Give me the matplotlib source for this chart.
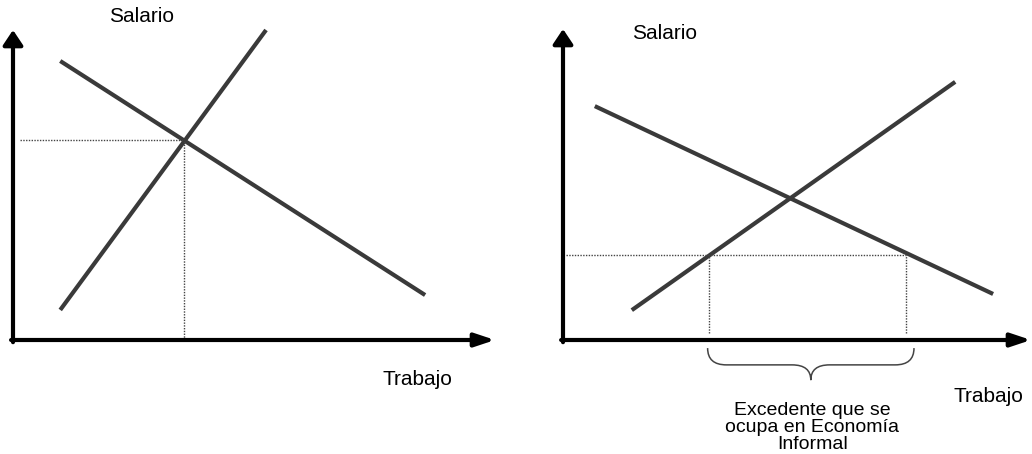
import matplotlib.pyplot as plt
from matplotlib.path import Path
from matplotlib.patches import PathPatch

# diagram values (labour on x, wage on y), axis ends at 10
left_supply_x = [0.98, 5.25]
left_supply_y = [0.97, 10.0]
left_demand_x = [0.98, 8.55]
left_demand_y = [9.0, 1.45]
left_eq_x = 3.55
left_eq_y = 6.45

right_supply_x = [1.47, 8.38]
right_supply_y = [0.96, 8.30]
right_demand_x = [0.68, 9.19]
right_demand_y = [7.52, 1.48]
right_min_wage = 2.73
right_labour_supplied = 3.11
right_labour_demanded = 7.33

axis_label_y = "Salario"
axis_label_x = "Trabajo"
surplus_label = "Excedente que se\nocupa en Economía\nInformal"

plt.rcParams['font.family'] = ['Liberation Sans', 'DejaVu Sans']

W, H = 1032, 454
fig = plt.figure(figsize=(W / 100, H / 100), dpi=100)

line_col = "#3a3a3a"
dot_col = "#444444"
dots = (0, (1, 1))


def make_axes(left_px, right_px, origin_px, tip_px):
    # axes covering a slice of the figure, data 0..10 mapped to origin..tip in pixels
    ox, oy = origin_px
    tx, ty = tip_px
    sx = (tx - ox) / 10.0
    sy = (oy - ty) / 10.0
    ax = fig.add_axes([left_px / W, 0, (right_px - left_px) / W, 1])
    ax.set_xlim((left_px - ox) / sx, (right_px - ox) / sx)
    ax.set_ylim((oy - H) / sy, oy / sy)
    ax.axis("off")
    return ax


def draw_axes_arrows(ax):
    common = dict(lw=3, color="black", mutation_scale=20, shrinkA=0, shrinkB=0)
    ax.annotate("", xy=(10, 0), xytext=(-0.04, 0),
                arrowprops=dict(arrowstyle="-|>,head_length=0.6,head_width=0.2", **common))
    ax.annotate("", xy=(0, 10), xytext=(0, -0.07),
                arrowprops=dict(arrowstyle="-|>,head_length=0.45,head_width=0.3", **common))


# left panel: equilibrium
axl = make_axes(0, 520, (13, 340), (495, 30))
draw_axes_arrows(axl)
axl.plot(left_supply_x, left_supply_y, color=line_col, lw=3, solid_capstyle="butt")
axl.plot(left_demand_x, left_demand_y, color=line_col, lw=3, solid_capstyle="butt")
axl.plot([0.15, left_eq_x], [left_eq_y, left_eq_y], color=dot_col, lw=1.0, ls=dots)
axl.plot([left_eq_x, left_eq_x], [0, left_eq_y], color=dot_col, lw=1.0, ls=dots)
axl.text(2.66, 10.42, axis_label_y, ha="center", va="center", fontsize=15)
axl.text(8.40, -1.29, axis_label_x, ha="center", va="center", fontsize=15)

# right panel: wage floor above equilibrium
axr = make_axes(520, 1032, (563, 340), (1031, 29))
draw_axes_arrows(axr)
axr.plot(right_supply_x, right_supply_y, color=line_col, lw=3, solid_capstyle="butt")
axr.plot(right_demand_x, right_demand_y, color=line_col, lw=3, solid_capstyle="butt")
axr.plot([0.06, right_labour_demanded], [right_min_wage, right_min_wage],
         color=dot_col, lw=1.0, ls=dots)
for xv in [right_labour_supplied, right_labour_demanded]:
    axr.plot([xv, xv], [0.23, right_min_wage], color=dot_col, lw=1.0, ls=dots)

# curly brace under the surplus
x0, x1 = 3.09, 7.50
xc = (x0 + x1) / 2
y_top, y_mid, y_tip = -0.26, -0.80, -1.29
r = 0.4
verts = [(x0, y_top), (x0, y_mid), (x0 + r, y_mid),
         (xc - r, y_mid),
         (xc, y_mid), (xc, y_tip),
         (xc, y_mid), (xc + r, y_mid),
         (x1 - r, y_mid),
         (x1, y_mid), (x1, y_top)]
codes = [Path.MOVETO, Path.CURVE3, Path.CURVE3,
         Path.LINETO,
         Path.CURVE3, Path.CURVE3,
         Path.CURVE3, Path.CURVE3,
         Path.LINETO,
         Path.CURVE3, Path.CURVE3]
axr.add_patch(PathPatch(Path(verts, codes), fill=False, lw=1.1, edgecolor="#444444"))

axr.text(2.18, 9.87, axis_label_y, ha="center", va="center", fontsize=15)
axr.text(9.08, -1.83, axis_label_x, ha="center", va="center", fontsize=15)
axr.text(5.33, -2.0, surplus_label, ha="center", va="top", fontsize=14,
         linespacing=0.98)

fig.savefig("out.png", dpi=100)
